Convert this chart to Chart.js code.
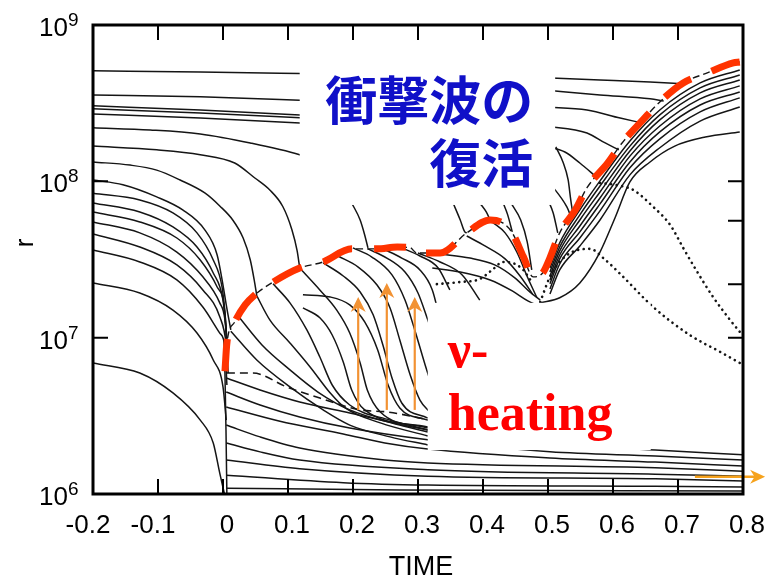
<!DOCTYPE html>
<html><head><meta charset="utf-8">
<script src="https://cdn.jsdelivr.net/npm/chart.js@4.4.1/dist/chart.umd.min.js"></script>
<style>html,body{margin:0;padding:0;background:#fff}canvas{display:block}</style>
</head><body>
<canvas id="c" width="778" height="576"></canvas>
<script>
// ---- axes ----
const timeTicks = [-0.2,-0.1,0,0.1,0.2,0.3,0.4,0.5,0.6,0.7,0.8];
const timeLabels = ['-0.2','-0.1','0','0.1','0.2','0.3','0.4','0.5','0.6','0.7','0.8'];
const radiusTicks = [1e6,1e7,1e8,1e9];
const radiusExp = ['6','7','8','9'];
const leftMinorTicks = [1e7,1e8];
const rightTicks = [1e7,2.2e7,5.6e7,1e8];

// ---- outer shells (ahead of shock, left part) [time, radius] ----
const outer1 = [[-0.2,5.1e8],[-0.035,5.0e8],[0.149,4.87e8]];
const outer2 = [[-0.2,3.57e8],[-0.035,3.47e8],[0.149,3.27e8]];
const outer3 = [[-0.2,3.04e8],[-0.035,2.86e8],[0.149,2.62e8]];
const outer4 = [[-0.2,2.91e8],[-0.035,2.74e8],[0.149,2.51e8]];
const outer5 = [[-0.2,2.70e8],[-0.035,2.54e8],[0.149,2.33e8]];
const outer6 = [[-0.2,2.20e8],[-0.112,2.13e8],[-0.035,2.01e8],[0.042,1.76e8],[0.118,1.48e8],[0.149,1.33e8]];

// ---- collapsing shells ----
const infall1 = [[-0.2,1.68e8],[-0.102,1.59e8],[-0.035,1.48e8],[0.018,1.31e8],[0.049,1.05e8],[0.072,8.8e7],[0.092,6.9e7],[0.106,4.9e7],[0.114,3.6e7],[0.118,2.8e7]];
const infall2 = [[-0.2,1.33e8],[-0.143,1.27e8],[-0.102,1.18e8],[-0.066,1.02e8],[-0.028,8.43e7],[-0.005,6.96e7],[0.015,5.66e7],[0.031,4.34e7],[0.042,3.14e7],[0.048,2.34e7],[0.052,1.85e7]];
const infall3 = [[-0.2,1.02e8],[-0.154,9.5e7],[-0.102,7.95e7],[-0.062,6.56e7],[-0.028,4.89e7],[-0.009,3.38e7],[0,2.17e7],[0.005,1.62e7],[0.012,1.12e7]];
const infall4 = [[-0.2,8.4e7],[-0.128,7.6e7],[-0.077,6.28e7],[-0.04,4.68e7],[-0.015,3.14e7],[-0.0015,2.11e7],[0.003,1.44e7],[0.006,9.67e6]];
const infall5 = [[-0.2,7.27e7],[-0.128,6.37e7],[-0.077,5.11e7],[-0.04,3.80e7],[-0.015,2.59e7],[0,1.74e7],[0.005,1.12e7]];
const infall6 = [[-0.2,6.37e7],[-0.128,5.5e7],[-0.071,4.34e7],[-0.035,3.14e7],[-0.009,2.11e7],[0.003,1.44e7],[0.006,8.34e6]];
const infall7 = [[-0.2,5.5e7],[-0.128,4.68e7],[-0.071,3.53e7],[-0.031,2.45e7],[-0.005,1.67e7],[0.003,1.30e7],[0.008,7.2e6]];
const infall8 = [[-0.2,4.61e7],[-0.128,3.80e7],[-0.071,2.92e7],[-0.031,2.02e7],[-0.005,1.36e7],[0.005,8.98e6],[0.008,5.94e6]];
const infall9 = [[-0.2,3.64e7],[-0.128,3.05e7],[-0.071,2.34e7],[-0.031,1.57e7],[-0.005,1.07e7],[0.003,8.72e6],[0.006,4.98e6]];
const infall10 = [[-0.2,2.24e7],[-0.128,1.93e7],[-0.077,1.50e7],[-0.04,1.07e7],[-0.015,7.2e6],[0,4.84e6],[0.005,2.97e6]];
const infall11 = [[-0.2,6.89e6],[-0.128,5.94e6],[-0.077,4.43e6],[-0.035,2.97e6],[-0.015,2.12e6],[-0.005,1.36e6],[0.003,9.7e5]];
const coreEdge = [[0.0015,9.67e6],[0.003,5.94e6],[0.0046,2.57e6],[0.006,9.7e5]];

// ---- settled inner shells ----
const settled1 = [[0.005,5.52e6],[0.057,4.63e6],[0.118,3.88e6],[0.195,3.30e6],[0.315,2.57e6],[0.503,2.06e6],[0.665,1.91e6],[0.8,1.78e6]];
const settled2 = [[0.005,4.49e6],[0.057,3.71e6],[0.118,3.11e6],[0.195,2.64e6],[0.315,2.22e6],[0.503,1.86e6],[0.665,1.75e6],[0.8,1.65e6]];
const settled3 = [[0.005,3.60e6],[0.086,2.93e6],[0.185,2.42e6],[0.249,2.12e6],[0.315,1.94e6],[0.503,1.70e6],[0.665,1.60e6],[0.8,1.51e6]];
const settled4 = [[0.005,2.76e6],[0.057,2.32e6],[0.118,1.97e6],[0.249,1.65e6],[0.315,1.58e6],[0.665,1.47e6],[0.8,1.40e6]];
const settled5 = [[0.005,2.12e6],[0.057,1.86e6],[0.118,1.65e6],[0.315,1.43e6],[0.665,1.34e6],[0.8,1.30e6]];
const settled6 = [[0.005,1.65e6],[0.118,1.45e6],[0.315,1.30e6],[0.665,1.25e6],[0.8,1.21e6]];
const settled7 = [[0.005,1.32e6],[0.185,1.18e6],[0.315,1.14e6],[0.665,1.12e6],[0.8,1.11e6]];
const settled8 = [[0.005,1.09e6],[0.272,1.06e6],[0.8,1.045e6]];

// ---- shocked shells falling through the heating region ----
const postShock1 = [[0.012,1.10e7],[0.052,7.2e6],[0.103,4.84e6],[0.154,3.45e6],[0.195,2.76e6],[0.257,2.32e6],[0.315,2.06e6]];
const postShock2 = [[0.023,1.38e7],[0.06,8.98e6],[0.103,6.22e6],[0.146,4.49e6],[0.195,3.45e6],[0.272,2.76e6],[0.315,2.49e6]];
const postShock3 = [[0.052,1.85e7],[0.072,1.30e7],[0.103,9.25e6],[0.134,6.49e6],[0.165,4.42e6],[0.188,3.55e6],[0.242,2.85e6],[0.315,2.35e6]];
const postShock4 = [[0.077,2.21e7],[0.103,1.67e7],[0.129,1.12e7],[0.149,7.52e6],[0.168,4.98e6],[0.195,3.71e6],[0.257,2.97e6],[0.315,2.57e6]];
const postShock5 = [[0.118,2.79e7],[0.149,2.02e7],[0.175,1.50e7],[0.195,1.07e7],[0.211,6.89e6],[0.222,4.63e6],[0.242,3.35e6],[0.315,2.64e6]];
const postShock6 = [[0.123,1.88e7],[0.165,1.82e7],[0.195,1.62e7],[0.218,1.26e7],[0.238,8.34e6],[0.254,4.98e6],[0.272,3.55e6],[0.315,2.97e6]];
const postShock7 = [[0.123,1.55e7],[0.149,1.34e7],[0.168,1.04e7],[0.185,6.99e6],[0.198,4.63e6],[0.218,3.45e6],[0.315,2.68e6]];
const postShock8 = [[0.154,3.01e7],[0.185,2.48e7],[0.211,1.96e7],[0.231,1.40e7],[0.246,8.98e6],[0.26,5.52e6],[0.275,3.82e6],[0.315,3.06e6]];
const postShock9 = [[0.177,3.33e7],[0.208,2.83e7],[0.237,2.17e7],[0.257,1.55e7],[0.272,9.67e6],[0.288,5.77e6],[0.303,3.99e6],[0.318,3.35e6]];
const postShock10 = [[0.2,3.75e7],[0.229,3.28e7],[0.26,2.52e7],[0.28,1.74e7],[0.295,1.12e7],[0.311,6.69e6],[0.326,4.30e6]];
const postShock11 = [[0.223,3.70e7],[0.252,3.23e7],[0.28,2.63e7],[0.3,1.93e7],[0.315,1.30e7],[0.331,8.34e6]];
const postShock12 = [[0.246,3.70e7],[0.275,3.23e7],[0.303,2.71e7],[0.322,2.02e7],[0.334,1.30e7]];
const postShock13 = [[0.272,3.80e7],[0.303,3.33e7],[0.331,2.79e7],[0.349,2.02e7]];
const postShock14 = [[0.3,3.48e7],[0.334,3.05e7],[0.368,2.52e7],[0.395,1.74e7]];

// ---- shells falling onto the stalled shock ----
const preShock1 = [[0.198,7.27e7],[0.211,5.66e7],[0.218,4.54e7],[0.223,3.75e7]];
const preShock2 = [[0.354,7.27e7],[0.365,5.66e7],[0.372,4.75e7],[0.375,4.68e7]];
const preShock3 = [[0.395,7.27e7],[0.405,6.37e7],[0.411,5.66e7]];
const preShock4 = [[0.431,7.27e7],[0.438,6.10e7],[0.445,4.75e7]];
const preShock5 = [[0.443,7.27e7],[0.458,5.66e7],[0.468,4.10e7],[0.475,2.71e7]];
const preShock6 = [[0.488,1.02e8],[0.5,7.6e7],[0.508,6.28e7],[0.515,4.68e7]];

// ---- outer shells (right part) ----
const outerR1 = [[0.495,4.59e8],[0.58,4.45e8],[0.657,4.32e8],[0.711,4.20e8]];
const outerR2 = [[0.495,3.84e8],[0.58,3.57e8],[0.657,3.37e8],[0.678,3.27e8]];
const outerR3 = [[0.495,2.99e8],[0.56,2.86e8],[0.611,2.54e8],[0.645,2.36e8]];
const outerR4 = [[0.495,2.26e8],[0.56,2.04e8],[0.588,1.76e8],[0.609,1.59e8]];
const outerR5 = [[0.495,1.68e8],[0.526,1.54e8],[0.549,1.31e8],[0.574,1.07e8]];
const outerR6 = [[0.512,1.66e8],[0.523,1.33e8],[0.531,1.02e8],[0.535,7.6e7],[0.538,6.28e7]];
const outerR7 = [[0.495,1.05e8],[0.508,9.14e7],[0.529,6.86e7],[0.535,6.0e7]];

// ---- shells carried out by the revived shock ----
const ejectaTime = [0.503,0.518,0.549,0.58,0.626,0.672,0.734,0.795];
const ejecta1 = [2.79e7,4.04e7,6.56e7,1.006e8,1.81e8,2.86e8,4.26e8,5.16e8];
const ejecta2 = [2.63e7,3.80e7,6.10e7,9.33e7,1.68e8,2.66e8,3.96e8,4.79e8];
const ejecta3 = [2.48e7,3.59e7,5.66e7,8.55e7,1.565e8,2.47e8,3.68e8,4.45e8];
const ejecta4 = [2.34e7,3.38e7,5.18e7,7.83e7,1.45e8,2.26e8,3.37e8,4.08e8];
const ejecta5 = [2.21e7,3.19e7,4.75e7,7.17e7,1.33e8,2.07e8,3.08e8,3.73e8];
const ejecta6 = [2.05e7,2.96e7,4.34e7,6.47e7,1.22e8,1.87e8,2.78e8,3.42e8];
const ejecta7 = [1.90e7,2.71e7,3.86e7,5.66e7,1.10e8,1.64e8,2.43e8,2.99e8];
const ejecta8 = [[0.488,1.67e7],[0.518,1.80e7],[0.549,2.24e7],[0.58,3.53e7],[0.603,5.83e7],[0.626,9.91e7],[0.657,1.33e8],[0.695,1.68e8],[0.742,1.92e8],[0.795,2.07e8]];

// ---- shells converging into the shock minimum ----
const dip1 = [[0.334,3.43e7],[0.38,3.23e7],[0.418,2.92e7],[0.449,2.41e7],[0.472,1.96e7],[0.488,1.74e7]];
const dip2 = [[0.322,2.79e7],[0.365,2.63e7],[0.411,2.34e7],[0.445,1.99e7],[0.469,1.72e7],[0.485,1.60e7]];
const dip3 = [[0.375,4.47e7],[0.403,3.86e7],[0.434,3.19e7],[0.457,2.48e7],[0.477,1.88e7]];
const dip4 = [[0.414,5.5e7],[0.434,4.68e7],[0.452,3.53e7],[0.469,2.41e7],[0.483,1.80e7]];

// ---- dotted shells ----
const dotted1 = [[0.329,2.20e7],[0.365,2.27e7],[0.395,2.37e7],[0.414,2.71e7],[0.431,3.05e7],[0.446,3.0e7],[0.462,2.71e7],[0.475,2.27e7]];
const dotted2 = [[0.488,1.69e7],[0.503,2.45e7],[0.518,3.05e7],[0.537,3.53e7],[0.565,3.70e7],[0.585,3.23e7],[0.611,2.56e7],[0.662,1.57e7],[0.718,1.04e7],[0.765,8.1e6],[0.795,6.89e6]];
const dotted3 = [[0.58,9.77e7],[0.603,9.5e7],[0.631,8.81e7],[0.662,6.86e7],[0.688,5.26e7],[0.708,3.75e7],[0.726,2.79e7],[0.754,1.82e7],[0.78,1.30e7],[0.795,1.09e7]];

// ---- gain radius and shock ----
const gainRadius = [[0.006,5.94e6],[0.046,5.94e6],[0.098,4.84e6],[0.149,4.11e6],[0.211,3.45e6],[0.252,3.35e6],[0.303,3.06e6],[0.322,2.93e6]];
const shockRadius = [[0.003,6.1e6],[0.006,9.25e6],[0.018,1.26e7],[0.034,1.62e7],[0.049,1.88e7],[0.075,2.24e7],[0.118,2.79e7],[0.154,3.05e7],[0.198,3.70e7],[0.237,3.70e7],[0.268,3.80e7],[0.288,3.76e7],[0.298,3.48e7],[0.334,3.48e7],[0.375,4.68e7],[0.411,5.66e7],[0.431,5.40e7],[0.445,4.68e7],[0.462,3.30e7],[0.477,2.45e7],[0.492,2.60e7],[0.503,3.24e7],[0.518,4.68e7],[0.542,6.56e7],[0.56,9.1e7],[0.592,1.31e8],[0.614,1.76e8],[0.646,2.47e8],[0.672,3.22e8],[0.708,4.26e8],[0.745,4.94e8],[0.785,5.72e8],[0.795,5.8e8]];

// ---- annotations ----
const heatingArrowTime = [0.208,0.252,0.295];
const heatingArrowFrom = [3.45e6,3.45e6,3.45e6];
const heatingArrowTo = [1.82e7,2.24e7,1.82e7];
const bottomArrowTime = [0.726,0.834];
const bottomArrowRadius = [1.29e6,1.29e6];
const titleBox = [0.118,0.511,7.5e8,7.06e7];
const heatBox = [0.315,0.658,1.67e7,1.91e6];
const titleLines = ['衝撃波の','復活'];
const heatLines = ['ν-','heating'];

// ---- build datasets ----
const toPts = a => a.map(p => ({x:p[0], y:p[1]}));
const lineSet = (pts, style) => Object.assign({
  data: toPts(pts), borderColor:'#151515', borderWidth:1.5, pointRadius:0,
  cubicInterpolationMode:'monotone', fill:false, order:3
}, style || {});

const solidShells = [outer1,outer2,outer3,outer4,outer5,outer6,
  infall1,infall2,infall3,infall4,infall5,infall6,infall7,infall8,infall9,infall10,infall11,coreEdge,
  settled1,settled2,settled3,settled4,settled5,settled6,settled7,settled8,
  postShock1,postShock2,postShock3,postShock4,postShock5,postShock6,postShock7,postShock8,postShock9,postShock10,postShock11,postShock12,postShock13,postShock14,
  preShock1,preShock2,preShock3,preShock4,preShock5,preShock6,
  outerR1,outerR2,outerR3,outerR4,outerR5,outerR6,outerR7,ejecta8,dip1,dip2,dip3,dip4];
const ejectaShells = [ejecta1,ejecta2,ejecta3,ejecta4,ejecta5,ejecta6,ejecta7]
  .map(r => r.map((v,i) => [ejectaTime[i], v]));

const datasets = [
  ...solidShells.map(p => lineSet(p)),
  ...ejectaShells.map(p => lineSet(p)),
  ...[dotted1,dotted2,dotted3].map(p => lineSet(p,{borderDash:[0.1,5.5],borderWidth:2.6,borderCapStyle:'round',order:2})),
  lineSet(gainRadius,{borderDash:[8,5],borderWidth:1.6,order:2}),
  lineSet(shockRadius,{borderDash:[7,4],borderWidth:1.4,order:1}),
  lineSet(shockRadius,{borderDash:[32,22],borderWidth:7,borderColor:'#ff3300',order:0})
];

function arrow(ctx,x0,y0,x1,y1,color,w,headL,headW){
  const a = Math.atan2(y1-y0,x1-x0), c=Math.cos(a), s=Math.sin(a);
  ctx.strokeStyle=color; ctx.lineWidth=w;
  ctx.beginPath(); ctx.moveTo(x0,y0); ctx.lineTo(x1-c*headL*0.6,y1-s*headL*0.6); ctx.stroke();
  ctx.fillStyle=color; ctx.beginPath();
  ctx.moveTo(x1,y1);
  ctx.lineTo(x1-headL*c+headW/2*s, y1-headL*s-headW/2*c);
  ctx.lineTo(x1-headL*0.7*c, y1-headL*0.7*s);
  ctx.lineTo(x1-headL*c-headW/2*s, y1-headL*s+headW/2*c);
  ctx.closePath(); ctx.fill();
}

const overlay = {
  id:'overlay',
  afterDatasetsDraw(chart){
    const {ctx, scales:{x,y}} = chart;
    const box = b => ({l:x.getPixelForValue(b[0]), r:x.getPixelForValue(b[1]), t:y.getPixelForValue(b[2]), b:y.getPixelForValue(b[3])});
    ctx.save();
    const tb = box(titleBox), hb = box(heatBox);
    ctx.fillStyle='#fff';
    ctx.fillRect(tb.l,tb.t,tb.r-tb.l,tb.b-tb.t);
    ctx.fillRect(hb.l,hb.t,hb.r-hb.l,hb.b-hb.t);
    ctx.fillStyle='#1010c8'; ctx.font='bold 52px "Noto Sans CJK JP"';
    ctx.textAlign='right'; ctx.textBaseline='middle';
    ctx.fillText(titleLines[0], tb.r-22, tb.t+56);
    ctx.fillText(titleLines[1], tb.r-22, tb.t+119);
    ctx.fillStyle='#ff0000'; ctx.font='bold 52px "Liberation Serif"';
    ctx.textAlign='left'; ctx.textBaseline='alphabetic';
    ctx.fillText(heatLines[0], hb.l+20, hb.t+64);
    ctx.fillText(heatLines[1], hb.l+20, hb.t+127);
    heatingArrowTime.forEach((t,i)=>{
      const px = x.getPixelForValue(t);
      arrow(ctx, px, y.getPixelForValue(heatingArrowFrom[i]), px, y.getPixelForValue(heatingArrowTo[i]), '#f29233', 2.2, 15, 15);
    });
    arrow(ctx, x.getPixelForValue(bottomArrowTime[0]), y.getPixelForValue(bottomArrowRadius[0]),
          x.getPixelForValue(bottomArrowTime[1]), y.getPixelForValue(bottomArrowRadius[1]), '#f6a21c', 2.6, 15, 14);
    ctx.restore();
  },
  afterDraw(chart){
    const {ctx, chartArea:a, scales:{x,y}} = chart;
    ctx.save();
    ctx.strokeStyle='#000'; ctx.lineWidth=3;
    ctx.strokeRect(a.left, a.top, a.right-a.left, a.bottom-a.top);
    ctx.lineWidth=2; ctx.beginPath();
    timeTicks.slice(1,-1).forEach(v=>{
      const px=x.getPixelForValue(v);
      ctx.moveTo(px,a.bottom); ctx.lineTo(px,a.bottom-15);
      ctx.moveTo(px,a.top); ctx.lineTo(px,a.top+15);
    });
    leftMinorTicks.forEach(v=>{const py=y.getPixelForValue(v); ctx.moveTo(a.left,py); ctx.lineTo(a.left+15,py);});
    rightTicks.forEach(v=>{const py=y.getPixelForValue(v); ctx.moveTo(a.right,py); ctx.lineTo(a.right-15,py);});
    ctx.stroke();
    ctx.fillStyle='#000';
    ctx.font='26px "Liberation Sans"'; ctx.textAlign='center'; ctx.textBaseline='alphabetic';
    timeTicks.forEach((v,i)=>{
      const px=x.getPixelForValue(v) + (v<0 ? -5 : 4);
      ctx.fillText(timeLabels[i], px, a.bottom+39);
    });
    radiusTicks.forEach((v,i)=>{
      const py=y.getPixelForValue(v);
      ctx.font='26px "Liberation Sans"'; ctx.textAlign='right';
      ctx.fillText('10', a.left-25, py+11);
      ctx.font='19px "Liberation Sans"'; ctx.textAlign='left';
      ctx.fillText(radiusExp[i], a.left-25, py+1);
    });
    ctx.font='27px "Liberation Sans"'; ctx.textAlign='center';
    ctx.fillText('TIME', 421, 575);
    ctx.save(); ctx.translate(33,243); ctx.rotate(-Math.PI/2);
    ctx.font='26px "Liberation Sans"'; ctx.fillText('r',0,0);
    ctx.restore();
    ctx.restore();
  }
};

new Chart(document.getElementById('c').getContext('2d'), {
  type:'line',
  data:{datasets},
  options:{
    responsive:false, animation:false, events:[],
    layout:{padding:{left:93,right:35,top:25,bottom:82}},
    plugins:{legend:{display:false},tooltip:{enabled:false},title:{display:false}},
    scales:{
      x:{type:'linear',min:-0.2,max:0.8,display:false},
      y:{type:'logarithmic',min:1e6,max:1e9,display:false}
    }
  },
  plugins:[overlay]
});
</script>
</body></html>
